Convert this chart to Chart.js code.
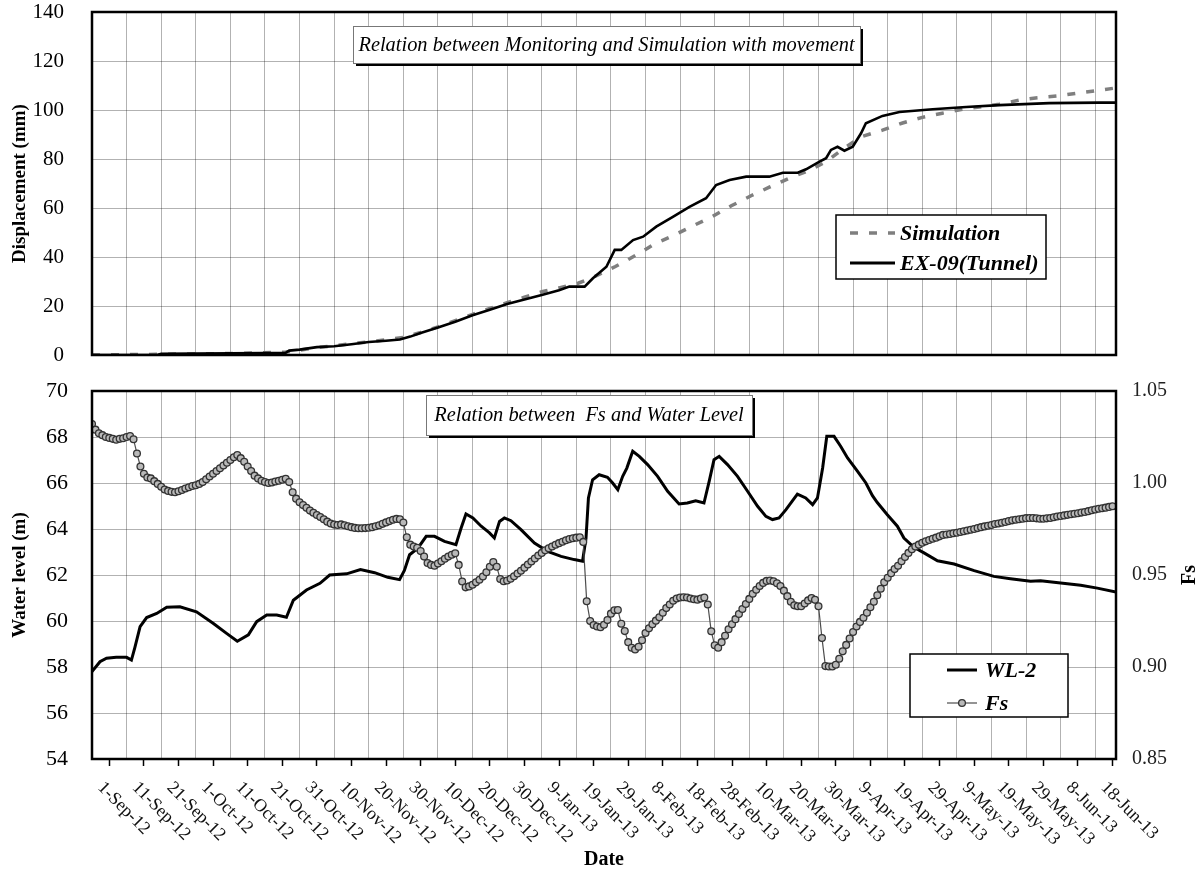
<!DOCTYPE html>
<html>
<head>
<meta charset="utf-8">
<title>Displacement, water level and Fs</title>
<script src="https://cdn.jsdelivr.net/npm/chart.js@4.4.1/dist/chart.umd.min.js"></script>
<style>
  html, body { margin: 0; padding: 0; background: #fff; }
  #wrap { position: relative; width: 1203px; height: 874px; }
  #wrap canvas { position: absolute; left: 0; }
  #top-chart { top: 0; }
  #bottom-chart { top: 370px; }
</style>
</head>
<body>
<div id="wrap">
  <canvas id="top-chart" width="1203" height="370"></canvas>
  <canvas id="bottom-chart" width="1203" height="504"></canvas>
</div>
<script>
// x values are days counted from 27-Aug-12
var dateLabels = ['1-Sep-12', '11-Sep-12', '21-Sep-12', '1-Oct-12', '11-Oct-12', '21-Oct-12',
    '31-Oct-12', '10-Nov-12', '20-Nov-12', '30-Nov-12', '10-Dec-12', '20-Dec-12', '30-Dec-12',
    '9-Jan-13', '19-Jan-13', '29-Jan-13', '8-Feb-13', '18-Feb-13', '28-Feb-13', '10-Mar-13',
    '20-Mar-13', '30-Mar-13', '9-Apr-13', '19-Apr-13', '29-Apr-13', '9-May-13', '19-May-13',
    '29-May-13', '8-Jun-13', '18-Jun-13'];

// EX-09 (Tunnel) displacement, mm
var exDays = [0, 10, 19, 20, 30, 40, 50, 56, 57, 60, 65, 70, 75, 80, 85, 89, 92, 95, 100, 105,
    110, 115, 120, 125, 130, 135, 138, 142.4, 144.8, 148.7, 151.1, 153, 156.4, 159.3, 163.1,
    167.9, 172.7, 177.5, 180.4, 184.3, 189.1, 195.8, 199.7, 204, 206.4, 210.3, 212.2, 213.6,
    215.5, 217.5, 219.9, 222.3, 223.7, 228.5, 233.4, 243, 252.7, 262.3, 276.7, 291, 296];
var exValues = [0, 0, 0.1, 0.5, 0.6, 0.7, 0.8, 0.9, 1.8, 2.2, 3.2, 3.6, 4.4, 5.3, 5.8, 6.3, 7.5,
    9.0, 11.2, 13.6, 16.2, 18.5, 20.8, 22.7, 24.5, 26.4, 27.9, 27.9, 31.3, 36, 42.9, 42.9, 46.9,
    48.3, 52.4, 56.4, 60.5, 64, 69.4, 71.4, 72.8, 72.8, 74.4, 74.4, 75.8, 78.9, 80.3, 83.7, 85,
    83.4, 85, 90.5, 94.6, 97.6, 99.2, 100.3, 101.2, 102, 102.8, 103, 103];

// Simulation displacement, mm
var simDays = [0, 20, 40, 56, 60, 65, 70, 75, 80, 85, 90, 95, 100, 105, 110, 115, 120, 125, 130,
    135, 140.5, 145, 151.3, 157.3, 162.6, 168.4, 173.7, 179.3, 184.8, 190.5, 195.8, 201.6, 206.9,
    212.2, 217, 222.4, 228.5, 234.3, 240, 245.8, 251.6, 262.3, 268, 273.3, 279, 284.5, 290.3, 296];
var simValues = [0, 0.3, 0.6, 1.2, 2.0, 3.0, 3.8, 4.6, 5.4, 6.2, 7.2, 9.2, 11.5, 14, 16.6, 19,
    21.4, 23.6, 25.8, 27.4, 29.3, 31.8, 36.1, 40.8, 45.3, 49, 52.7, 56.5, 60.9, 65, 68.5, 72.2,
    75.1, 78.9, 84, 89.1, 91.8, 94.7, 97, 98.7, 100.3, 102.4, 104, 105, 105.7, 106.8, 107.9, 109];

// WL-2 water level, m
var wlDays = [0, 2.3, 4.2, 7, 10, 11.4, 12.4, 13.9, 15.8, 18.7, 21.6, 25.4, 30.2, 35, 38.9, 42,
    45.2, 47.6, 50.5, 53.4, 56.2, 58.2, 62, 65.9, 68.7, 73.6, 77.6, 81.7, 85.5, 88.9, 90.3, 91.8,
    94.2, 96.6, 99, 101.9, 105.2, 106.7, 108.1, 110.1, 112.5, 114.9, 116.3, 117.8, 119.2, 121.1,
    124, 127.9, 131.7, 135.6, 139.4, 141.8, 142.8, 143.5, 144.7, 146.6, 149, 150.5, 152, 153.4,
    154.6, 156.3, 158.2, 160.6, 163.5, 166.4, 169.7, 172.1, 174.5, 176.9, 178.4, 179.8, 181.3,
    183.7, 186.6, 189.5, 192.4, 194.8, 196.7, 198.6, 200.6, 203.9, 206.3, 208.3, 209.7, 211.2,
    212.4, 214.5, 216.4, 218.4, 221.3, 223.7, 225.6, 227, 229.9, 232.8, 234.7, 237.6, 240.5,
    244.4, 249.2, 255, 260.7, 265.5, 271.3, 274.2, 280, 285.8, 290.6, 296];
var wlValues = [57.8, 58.23, 58.38, 58.42, 58.42, 58.3, 58.85, 59.75, 60.15, 60.33, 60.6, 60.62,
    60.4, 59.9, 59.46, 59.12, 59.4, 59.97, 60.26, 60.26, 60.16, 60.9, 61.35, 61.64, 62.0, 62.05,
    62.24, 62.1, 61.9, 61.8, 62.2, 62.88, 63.17, 63.68, 63.68, 63.46, 63.32, 64.04, 64.65, 64.48,
    64.12, 63.83, 63.61, 64.33, 64.48, 64.36, 63.97, 63.39, 63.03, 62.81, 62.67, 62.6, 63.61,
    65.35, 66.14, 66.36, 66.25, 66.0, 65.71, 66.29, 66.65, 67.38, 67.16, 66.8, 66.29, 65.64,
    65.09, 65.13, 65.23, 65.13, 66.07, 67.01, 67.16, 66.8, 66.29, 65.64, 64.99, 64.55, 64.41,
    64.48, 64.84, 65.52, 65.35, 65.06, 65.35, 66.65, 68.03, 68.03, 67.6, 67.09, 66.51, 66.0,
    65.45, 65.15, 64.62, 64.12, 63.61, 63.2, 62.96, 62.62, 62.48, 62.19, 61.94, 61.84, 61.73,
    61.75, 61.65, 61.55, 61.43, 61.26];

// Fs, one reading per day from day 0
var fsValues = [
    1.032, 1.029, 1.027, 1.026, 1.025, 1.0245, 1.024, 1.0235, 1.024, 1.0243,
    1.025, 1.0255, 1.0238, 1.016, 1.009, 1.005, 1.003, 1.0025, 1.001, 0.9995,
    0.998, 0.9965, 0.9957, 0.9952, 0.995, 0.9955, 0.9962, 0.997, 0.9977, 0.9984,
    0.9988, 0.9995, 1.0005, 1.002, 1.0035, 1.005, 1.0065, 1.008, 1.0095, 1.011,
    1.0125, 1.014, 1.0152, 1.0135, 1.0115, 1.009, 1.0065, 1.004, 1.0025, 1.0012,
    1.0005, 1.0, 1.0003, 1.0008, 1.0012, 1.0018, 1.0023, 1.0005, 0.995, 0.9915,
    0.9895, 0.988, 0.9865, 0.985, 0.9838, 0.9826, 0.9815, 0.9803, 0.979, 0.978,
    0.9774, 0.9772, 0.9775, 0.977, 0.9765, 0.976, 0.9756, 0.9754, 0.9754, 0.9755,
    0.9757, 0.976, 0.9765, 0.977, 0.9778, 0.9786, 0.9793, 0.98, 0.9805, 0.9803,
    0.9785, 0.9705, 0.9665, 0.9655, 0.9648, 0.963, 0.96, 0.9565, 0.9555, 0.955,
    0.9562, 0.9575, 0.9588, 0.96, 0.961, 0.9618, 0.9555, 0.9465, 0.9433, 0.9438,
    0.9447, 0.946, 0.9474, 0.9492, 0.9515, 0.9545, 0.957, 0.9545, 0.9478, 0.9466,
    0.947, 0.948, 0.9493, 0.9508, 0.9523, 0.954, 0.9557, 0.9573, 0.959, 0.9606,
    0.962, 0.9634, 0.9645, 0.9655, 0.9664, 0.9673, 0.9681, 0.9689, 0.9695, 0.97,
    0.9703, 0.9705, 0.968, 0.9357, 0.925, 0.9228, 0.922, 0.9216, 0.923, 0.9255,
    0.929, 0.9308, 0.931, 0.9235, 0.9195, 0.9135, 0.9105, 0.9095, 0.911, 0.9145,
    0.9185, 0.921, 0.9232, 0.9252, 0.927, 0.9295, 0.932, 0.934, 0.936, 0.9372,
    0.9378, 0.9379, 0.9378, 0.9372, 0.9368, 0.9366, 0.9372, 0.9378, 0.934, 0.9194,
    0.9118, 0.9105, 0.9135, 0.917, 0.9205, 0.9232, 0.926, 0.9288, 0.9315, 0.9342,
    0.937, 0.9398, 0.942, 0.944, 0.9457, 0.9468, 0.947, 0.9466, 0.9455, 0.944,
    0.9415, 0.9385, 0.9355, 0.9335, 0.933, 0.933, 0.9345, 0.9362, 0.9375, 0.9365,
    0.933, 0.9158, 0.9005, 0.9003, 0.9003, 0.9012, 0.9045, 0.9085, 0.912, 0.9155,
    0.919, 0.922, 0.9245, 0.9268, 0.9295, 0.9325, 0.9355, 0.939, 0.9425, 0.946,
    0.9485, 0.951, 0.9532, 0.955, 0.9575, 0.9598, 0.962, 0.964, 0.9655, 0.9665,
    0.9675, 0.9683, 0.969, 0.9697, 0.9703, 0.971, 0.9718, 0.972, 0.9723, 0.9727,
    0.973, 0.9734, 0.9738, 0.9742, 0.9746, 0.975, 0.9755, 0.976, 0.9764, 0.9768,
    0.9772, 0.9777, 0.978, 0.9784, 0.9788, 0.9793, 0.9797, 0.98, 0.9803, 0.9806,
    0.9809, 0.981, 0.981, 0.9808, 0.9806, 0.9806, 0.9808, 0.981, 0.9814, 0.9818,
    0.9821, 0.9824, 0.9827, 0.983, 0.9833, 0.9836, 0.9839, 0.9842, 0.9847, 0.9852,
    0.9856, 0.986, 0.9863, 0.9866, 0.987, 0.9874];

var SERIF = '"Liberation Serif", "Times New Roman", serif';
var GRID = 'rgba(0, 0, 0, 0.3)';
var DAY_MAX = 296;

function toPoints(days, values) {
    return days.map(function (d, i) { return { x: d, y: values[i] }; });
}

// gridlines every 10 days, labelled ticks halfway between them
function stepTicks(step) {
    var t = [];
    for (var d = 0; d < DAY_MAX; d += step) t.push({ value: d });
    return t;
}

// stop the tick labels from pushing the plot area inwards
function noOverhang(s) {
    s.paddingTop = 0;
    s.paddingBottom = 0;
    s.paddingLeft = 0;
    s.paddingRight = 0;
}

function drawNote(ctx, box, text) {
    ctx.save();
    ctx.fillStyle = '#000';
    ctx.fillRect(box.x + 3, box.y + 3, box.w, box.h);
    ctx.fillStyle = '#fff';
    ctx.fillRect(box.x, box.y, box.w, box.h);
    ctx.strokeStyle = '#777';
    ctx.lineWidth = 1;
    ctx.strokeRect(box.x + 0.5, box.y + 0.5, box.w, box.h);
    ctx.font = 'italic 20.4px ' + SERIF;
    ctx.fillStyle = '#000';
    ctx.textAlign = 'center';
    ctx.textBaseline = 'middle';
    ctx.fillText(text, box.x + box.w / 2, box.y + box.h / 2 + 1);
    ctx.restore();
}

function drawLegend(chart, box, rows) {
    var ctx = chart.ctx;
    ctx.save();
    ctx.fillStyle = '#fff';
    ctx.fillRect(box.x, box.y, box.w, box.h);
    ctx.strokeStyle = '#000';
    ctx.lineWidth = 1.5;
    ctx.strokeRect(box.x, box.y, box.w, box.h);
    rows.forEach(function (row) {
        var ds = chart.data.datasets[row.index];
        ctx.strokeStyle = ds.borderColor;
        ctx.lineWidth = row.lineWidth || ds.borderWidth;
        ctx.setLineDash(ds.borderDash || []);
        ctx.beginPath();
        ctx.moveTo(box.x1, row.y);
        ctx.lineTo(box.x2, row.y);
        ctx.stroke();
        ctx.setLineDash([]);
        if (ds.pointRadius) {
            ctx.beginPath();
            ctx.arc((box.x1 + box.x2) / 2, row.y, ds.pointRadius, 0, Math.PI * 2);
            ctx.fillStyle = ds.pointBackgroundColor;
            ctx.fill();
            ctx.lineWidth = ds.pointBorderWidth;
            ctx.strokeStyle = ds.pointBorderColor;
            ctx.stroke();
        }
        ctx.font = 'italic bold 22px ' + SERIF;
        ctx.fillStyle = '#000';
        ctx.textAlign = 'left';
        ctx.textBaseline = 'middle';
        ctx.fillText(ds.label, box.tx, row.y + 1);
    });
    ctx.restore();
}

function drawFrame(chart) {
    var a = chart.chartArea, ctx = chart.ctx;
    ctx.save();
    ctx.strokeStyle = '#000';
    ctx.lineWidth = 2.5;
    ctx.strokeRect(a.left, a.top, a.right - a.left, a.bottom - a.top);
    ctx.restore();
}

function yAxis(min, max, step, title, padding, size) {
    return {
        position: 'left',
        min: min,
        max: max,
        ticks: { stepSize: step, padding: padding, color: '#000', font: { family: SERIF, size: size } },
        grid: { color: GRID, drawTicks: false },
        border: { display: false },
        title: {
            display: true,
            text: title,
            color: '#000',
            font: { family: SERIF, size: 19, weight: 'bold' },
            padding: { top: 9, bottom: 0 }
        },
        afterFit: function (s) { s.width = 92; noOverhang(s); }
    };
}

// ---- displacement panel ----
var topChart = new Chart(document.getElementById('top-chart').getContext('2d'), {
    type: 'line',
    data: {
        datasets: [{
            label: 'EX-09(Tunnel)',
            data: toPoints(exDays, exValues),
            borderColor: '#000',
            borderWidth: 2.6,
            pointRadius: 0
        }, {
            label: 'Simulation',
            data: toPoints(simDays, simValues),
            borderColor: '#7f7f7f',
            borderWidth: 3.5,
            borderDash: [8, 11],
            pointRadius: 0
        }]
    },
    options: {
        responsive: false,
        animation: false,
        devicePixelRatio: 1,
        layout: { padding: { top: 12, right: 87, left: 0, bottom: 0 } },
        scales: {
            x: {
                type: 'linear',
                min: 0,
                max: DAY_MAX,
                afterBuildTicks: function (s) { s.ticks = stepTicks(10); },
                ticks: { display: false },
                grid: { color: GRID, drawTicks: false },
                border: { display: false },
                afterFit: function (s) { s.height = 15; noOverhang(s); }
            },
            y: yAxis(0, 140, 20, 'Displacement (mm)', 28, 21)
        },
        plugins: { legend: { display: false }, tooltip: { enabled: false } }
    },
    plugins: [{
        id: 'topDecor',
        afterDatasetsDraw: function (chart) {
            drawFrame(chart);
            drawNote(chart.ctx, { x: 353, y: 26, w: 507, h: 37 },
                'Relation between Monitoring and Simulation with movement');
            drawLegend(chart, { x: 836, y: 215, w: 210, h: 64, x1: 850, x2: 895, tx: 900 },
                [{ index: 1, y: 233 }, { index: 0, y: 263, lineWidth: 3 }]);
        }
    }]
});

// ---- water level / Fs panel ----
var bottomChart = new Chart(document.getElementById('bottom-chart').getContext('2d'), {
    type: 'line',
    data: {
        datasets: [{
            label: 'Fs',
            yAxisID: 'y1',
            data: fsValues.map(function (v, i) { return { x: i, y: v }; }),
            borderColor: '#4d4d4d',
            borderWidth: 1.2,
            pointRadius: 3.4,
            pointBackgroundColor: '#b9b9b9',
            pointBorderColor: '#333',
            pointBorderWidth: 1.3
        }, {
            label: 'WL-2',
            yAxisID: 'y',
            data: toPoints(wlDays, wlValues),
            borderColor: '#000',
            borderWidth: 3,
            pointRadius: 0
        }]
    },
    options: {
        responsive: false,
        animation: false,
        devicePixelRatio: 1,
        layout: { padding: { top: 21, right: 0, left: 0, bottom: 0 } },
        scales: {
            x: {
                type: 'linear',
                min: 0,
                max: DAY_MAX,
                afterBuildTicks: function (s) { s.ticks = stepTicks(5); },
                ticks: { display: false },
                grid: {
                    color: function (c) { return c.tick && c.tick.value % 10 === 0 ? GRID : 'rgba(0,0,0,0)'; },
                    tickColor: function (c) { return c.tick && c.tick.value % 10 === 5 ? '#000' : 'rgba(0,0,0,0)'; },
                    tickLength: 7,
                    tickWidth: 1.5
                },
                border: { display: false },
                title: {
                    display: true,
                    text: 'Date',
                    color: '#000',
                    font: { family: SERIF, size: 20, weight: 'bold' },
                    padding: { top: 0, bottom: 2 }
                },
                afterFit: function (s) { s.height = 115; noOverhang(s); }
            },
            y: yAxis(54, 70, 2, 'Water level (m)', 24, 22),
            y1: {
                position: 'right',
                min: 0.85,
                max: 1.05,
                ticks: {
                    stepSize: 0.05,
                    padding: 16,
                    color: '#222',
                    font: { family: SERIF, size: 20 },
                    callback: function (v) { return v.toFixed(2); }
                },
                grid: { drawOnChartArea: false, drawTicks: false },
                border: { display: false },
                afterFit: function (s) { s.width = 87; noOverhang(s); }
            }
        },
        plugins: { legend: { display: false }, tooltip: { enabled: false } }
    },
    plugins: [{
        id: 'bottomDecor',
        afterDatasetsDraw: function (chart) {
            drawFrame(chart);
            drawNote(chart.ctx, { x: 426, y: 25, w: 326, h: 40 }, 'Relation between  Fs and Water Level');
            drawLegend(chart, { x: 910, y: 284, w: 158, h: 63, x1: 947, x2: 977, tx: 985 },
                [{ index: 1, y: 300 }, { index: 0, y: 333 }]);
        },
        afterDraw: function (chart) {
            var ctx = chart.ctx, xs = chart.scales.x;
            ctx.save();
            ctx.font = '18px ' + SERIF;
            ctx.fillStyle = '#111';
            ctx.textAlign = 'left';
            ctx.textBaseline = 'middle';
            // date labels slanted downwards, starting at their tick
            dateLabels.forEach(function (text, i) {
                var px = xs.getPixelForValue(5 + 10 * i);
                ctx.save();
                ctx.translate(px - 9, 415);
                ctx.rotate(Math.PI / 4);
                ctx.fillText(text, 0, 0);
                ctx.restore();
            });
            // Fs axis title, reading upwards
            ctx.font = 'bold 20px ' + SERIF;
            ctx.fillStyle = '#000';
            ctx.textAlign = 'center';
            ctx.translate(1190, 205);
            ctx.rotate(-Math.PI / 2);
            ctx.fillText('Fs', 0, 0);
            ctx.restore();
        }
    }]
});
</script>
</body>
</html>
